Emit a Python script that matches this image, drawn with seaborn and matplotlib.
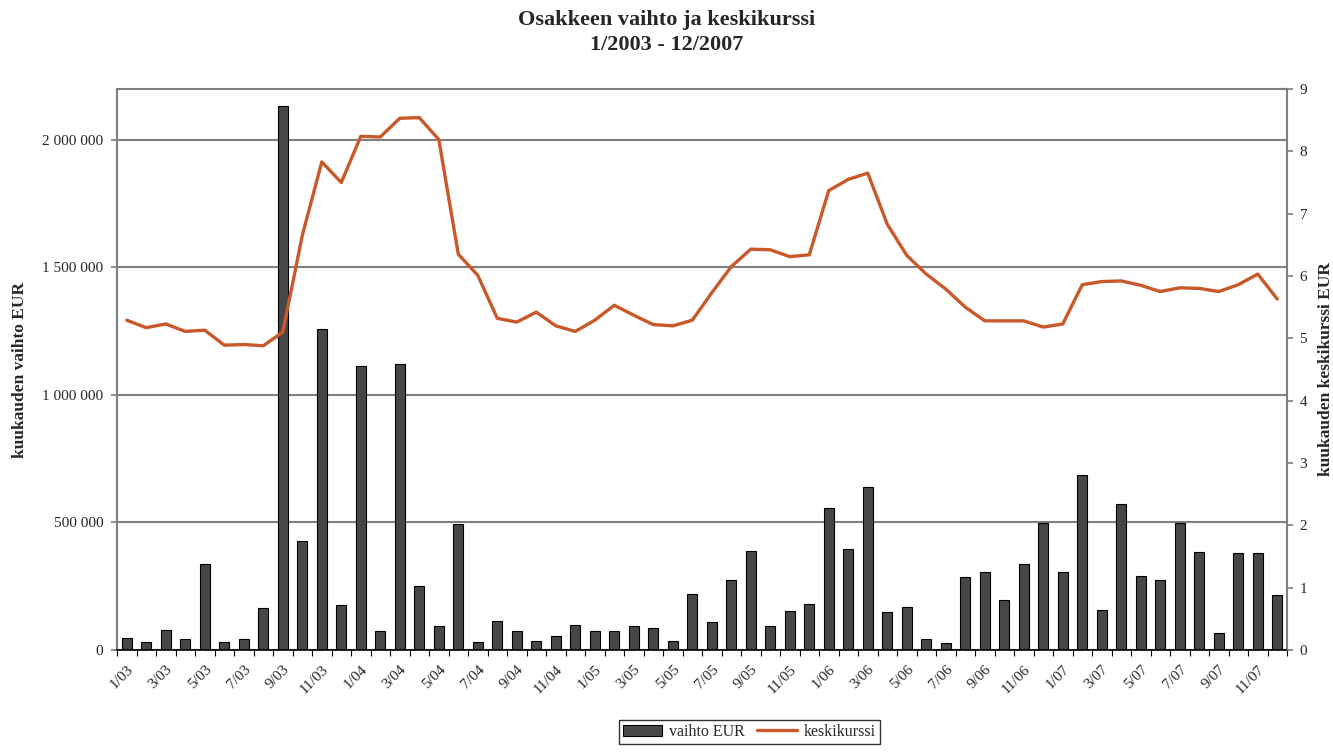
import numpy as np
import pandas as pd
import matplotlib
matplotlib.use("Agg")
import matplotlib.pyplot as plt
import seaborn as sns
from matplotlib.ticker import FuncFormatter, FixedLocator
from matplotlib.patches import Patch
from matplotlib.lines import Line2D

# Data
kuukaudet = [f"{m}/{y:02d}" for y in range(3, 8) for m in range(1, 13)]

vaihto_eur = [
    45000, 32000, 77000, 41000, 337000, 32000, 41000, 163000, 2134000, 429000, 1257000, 177000,
    1112000, 73000, 1122000, 250000, 92000, 494000, 32000, 113000, 73000, 36000, 54000, 99000,
    76000, 76000, 94000, 87000, 36000, 218000, 109000, 273000, 390000, 92000, 153000, 182000,
    555000, 395000, 640000, 148000, 167000, 41000, 29000, 288000, 305000, 196000, 337000, 498000,
    305000, 686000, 157000, 574000, 291000, 273000, 498000, 385000, 65000, 381000, 381000, 214000,
]

keskikurssi = [
    5.29, 5.17, 5.23, 5.11, 5.13, 4.89, 4.90, 4.88, 5.10, 6.65, 7.83, 7.50,
    8.24, 8.23, 8.53, 8.54, 8.19, 6.35, 6.01, 5.32, 5.26, 5.42, 5.20, 5.11,
    5.29, 5.53, 5.37, 5.22, 5.20, 5.29, 5.73, 6.15, 6.43, 6.42, 6.31, 6.34,
    7.37, 7.55, 7.65, 6.83, 6.33, 6.03, 5.79, 5.50, 5.28, 5.28, 5.28, 5.18,
    5.23, 5.86, 5.91, 5.92, 5.85, 5.75, 5.81, 5.80, 5.75, 5.86, 6.03, 5.63,
]

vasen_tikit = [0, 500000, 1000000, 1500000, 2000000]
oikea_tikit = list(range(0, 10))

df = pd.DataFrame({"kuukausi": kuukaudet, "vaihto": vaihto_eur,
                   "kurssi": keskikurssi, "pos": np.arange(len(kuukaudet))})

sns.set_theme(style="white")
plt.rcParams['font.family'] = ['Liberation Serif', 'DejaVu Serif']

bar_vari = "#474747"
viiva_vari = "#C9582B"
harmaa = "#7f7f7f"

fig = plt.figure(figsize=(13.33, 7.54), dpi=100)
ax = fig.add_axes([0.0878, 0.138, 0.8777, 0.744])

sns.barplot(data=df, x="kuukausi", y="vaihto", order=kuukaudet, color=bar_vari,
            saturation=1, width=0.5, edgecolor="black", linewidth=0.8, ax=ax)

ax.set_xlim(-0.5, len(kuukaudet) - 0.5)
ax.set_ylim(0, 2200000)
ax.yaxis.set_major_locator(FixedLocator(vasen_tikit))
ax.yaxis.set_major_formatter(FuncFormatter(lambda v, p: f"{int(v):,}".replace(",", " ")))
ax.yaxis.grid(True, color=harmaa, linewidth=1.5)
ax.set_axisbelow(True)

# x ticks: labels every other month, tick marks between categories
ax.set_xticks(np.arange(0, len(kuukaudet), 2))
ax.set_xticklabels(kuukaudet[::2], rotation=45, ha="right", rotation_mode="anchor", fontsize=11)
ax.set_xticks(np.arange(-0.5, len(kuukaudet), 1), minor=True)
ax.tick_params(axis="x", which="major", length=0, pad=9)
ax.tick_params(axis="x", which="minor", length=4, width=0.8, color="black", direction="out", bottom=True)
ax.tick_params(axis="y", labelsize=11, length=4, left=True, color=harmaa, pad=6)
ax.set_xlabel("")
ax.set_ylabel("kuukauden vaihto EUR", fontsize=12.5, fontweight="bold")
ax.yaxis.set_label_coords(-0.076, 0.5)

for s in ["left", "right", "top"]:
    ax.spines[s].set_color(harmaa)
    ax.spines[s].set_linewidth(1.5)
ax.spines["bottom"].set_color("black")
ax.spines["bottom"].set_linewidth(1.2)

# keskikurssi on the right axis
ax2 = ax.twinx()
sns.lineplot(data=df, x="pos", y="kurssi", color=viiva_vari, linewidth=2.4, ax=ax2)
ax2.set_ylim(0, 9)
ax2.set_yticks(oikea_tikit)
ax2.tick_params(axis="y", labelsize=11, length=4, right=True, color=harmaa, pad=5)
ax2.set_ylabel("kuukauden keskikurssi EUR", fontsize=12.5, fontweight="bold")
ax2.yaxis.set_label_coords(1.0265, 0.5)
ax2.set_xlabel("")
for s in ax2.spines.values():
    s.set_visible(False)

fig.text(0.5, 0.973, "Osakkeen vaihto ja keskikurssi", ha="center", va="center",
         fontsize=16, fontweight="bold")
fig.text(0.5, 0.940, "1/2003 - 12/2007", ha="center", va="center",
         fontsize=16, fontweight="bold")

kahvat = [Patch(facecolor=bar_vari, edgecolor="black", linewidth=0.8),
          Line2D([0], [0], color=viiva_vari, linewidth=2.4)]
leg = fig.legend(kahvat, ["vaihto EUR", "keskikurssi"], loc="lower center",
                 bbox_to_anchor=(0.562, 0.003), ncol=2, fontsize=11.5, frameon=True,
                 fancybox=False, handlelength=2.5, columnspacing=0.8, handletextpad=0.4,
                 borderpad=0.25)
leg.get_frame().set_edgecolor("black")
leg.get_frame().set_linewidth(1.0)

fig.savefig("out.png", dpi=100)
